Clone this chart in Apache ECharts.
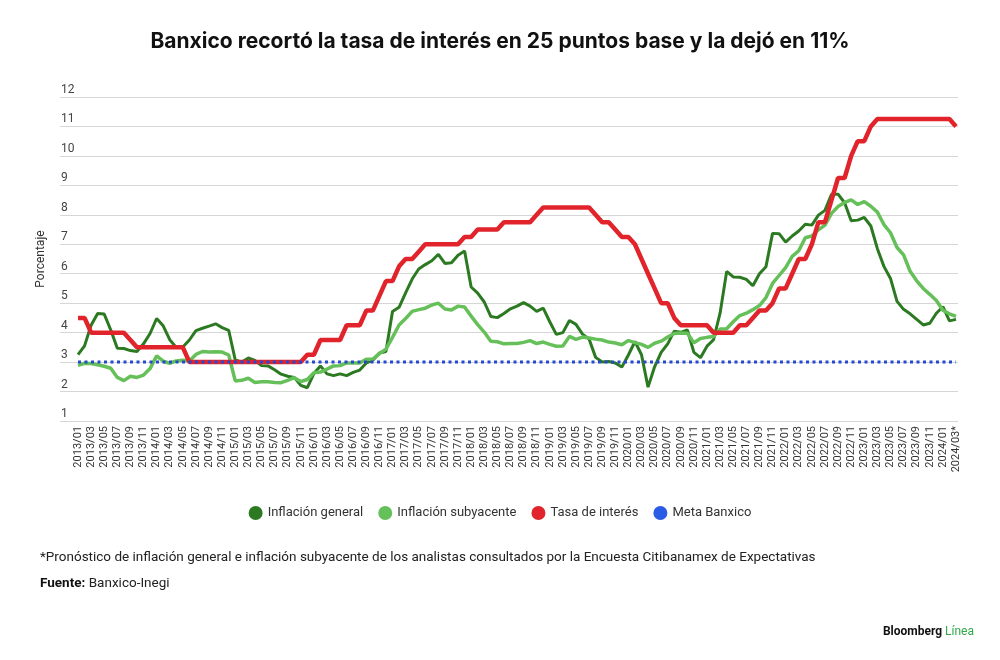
<!DOCTYPE html>
<html>
<head>
<meta charset="utf-8">
<script src="https://cdn.jsdelivr.net/npm/echarts@6/dist/echarts.min.js"></script>
<style>
  html, body { margin: 0; padding: 0; background: #fff; }
  #chart { width: 1000px; height: 660px; }
</style>
</head>
<body>
<div id="chart"></div>
<script>
// months 2013/01 .. 2024/03 (last one is a forecast)
let months = []
for (let y = 2013; y <= 2024; y++) {
    for (let m = 1; m <= 12; m++) {
        if (y === 2024 && m > 3) break
        months.push(y + '/' + (m < 10 ? '0' + m : m))
    }
}
months[months.length - 1] = '2024/03*'

// Inflación general, by year
let general2013 = [3.25, 3.55, 4.25, 4.65, 4.63, 4.09, 3.47, 3.46, 3.39, 3.36, 3.62, 3.97]
let general2014 = [4.48, 4.23, 3.76, 3.50, 3.51, 3.75, 4.07, 4.15, 4.22, 4.30, 4.17, 4.08]
let general2015 = [3.07, 3.00, 3.14, 3.06, 2.88, 2.87, 2.74, 2.59, 2.52, 2.48, 2.21, 2.13]
let general2016 = [2.61, 2.87, 2.60, 2.54, 2.60, 2.54, 2.65, 2.73, 2.97, 3.06, 3.31, 3.36]
let general2017 = [4.72, 4.86, 5.35, 5.82, 6.16, 6.31, 6.44, 6.66, 6.35, 6.37, 6.63, 6.77]
let general2018 = [5.55, 5.34, 5.04, 4.55, 4.51, 4.65, 4.81, 4.90, 5.02, 4.90, 4.72, 4.83]
let general2019 = [4.37, 3.94, 4.00, 4.41, 4.28, 3.95, 3.78, 3.16, 3.00, 3.02, 2.97, 2.83]
let general2020 = [3.24, 3.70, 3.25, 2.15, 2.84, 3.33, 3.62, 4.05, 4.01, 4.09, 3.33, 3.15]
let general2021 = [3.54, 3.76, 4.67, 6.08, 5.89, 5.88, 5.81, 5.59, 6.00, 6.24, 7.37, 7.36]
let general2022 = [7.07, 7.28, 7.45, 7.68, 7.65, 7.99, 8.15, 8.70, 8.70, 8.41, 7.80, 7.82]
let general2023 = [7.91, 7.62, 6.85, 6.25, 5.84, 5.06, 4.79, 4.64, 4.45, 4.26, 4.32, 4.66]
let general2024 = [4.88, 4.40, 4.45]

// Inflación subyacente, by year
let core2013 = [2.89, 2.96, 2.95, 2.91, 2.86, 2.79, 2.48, 2.37, 2.52, 2.48, 2.56, 2.78]
let core2014 = [3.21, 3.03, 2.96, 3.04, 3.06, 3.04, 3.26, 3.36, 3.34, 3.35, 3.34, 3.24]
let core2015 = [2.36, 2.38, 2.45, 2.31, 2.33, 2.33, 2.31, 2.30, 2.38, 2.47, 2.34, 2.41]
let core2016 = [2.64, 2.66, 2.76, 2.87, 2.88, 2.97, 2.97, 2.97, 3.10, 3.10, 3.29, 3.44]
let core2017 = [3.84, 4.26, 4.48, 4.72, 4.78, 4.83, 4.94, 5.00, 4.80, 4.77, 4.90, 4.87]
let core2018 = [4.56, 4.27, 4.02, 3.71, 3.69, 3.62, 3.63, 3.63, 3.67, 3.73, 3.63, 3.68]
let core2019 = [3.60, 3.54, 3.55, 3.87, 3.77, 3.85, 3.82, 3.78, 3.75, 3.68, 3.65, 3.59]
let core2020 = [3.73, 3.66, 3.60, 3.50, 3.64, 3.71, 3.85, 3.97, 3.99, 3.98, 3.66, 3.80]
let core2021 = [3.84, 3.87, 4.12, 4.13, 4.37, 4.58, 4.66, 4.78, 4.92, 5.19, 5.67, 5.94]
let core2022 = [6.21, 6.59, 6.78, 7.22, 7.28, 7.49, 7.65, 8.05, 8.28, 8.42, 8.51, 8.35]
let core2023 = [8.45, 8.29, 8.09, 7.67, 7.39, 6.89, 6.64, 6.08, 5.76, 5.50, 5.30, 5.09]
let core2024 = [4.76, 4.64, 4.55]

// Tasa de interés, by year
let rate2013 = [4.5, 4.5, 4.0, 4.0, 4.0, 4.0, 4.0, 4.0, 3.75, 3.5, 3.5, 3.5]
let rate2014 = [3.5, 3.5, 3.5, 3.5, 3.5, 3.0, 3.0, 3.0, 3.0, 3.0, 3.0, 3.0]
let rate2015 = [3.0, 3.0, 3.0, 3.0, 3.0, 3.0, 3.0, 3.0, 3.0, 3.0, 3.0, 3.25]
let rate2016 = [3.25, 3.75, 3.75, 3.75, 3.75, 4.25, 4.25, 4.25, 4.75, 4.75, 5.25, 5.75]
let rate2017 = [5.75, 6.25, 6.5, 6.5, 6.75, 7.0, 7.0, 7.0, 7.0, 7.0, 7.0, 7.25]
let rate2018 = [7.25, 7.5, 7.5, 7.5, 7.5, 7.75, 7.75, 7.75, 7.75, 7.75, 8.0, 8.25]
let rate2019 = [8.25, 8.25, 8.25, 8.25, 8.25, 8.25, 8.25, 8.0, 7.75, 7.75, 7.5, 7.25]
let rate2020 = [7.25, 7.0, 6.5, 6.0, 5.5, 5.0, 5.0, 4.5, 4.25, 4.25, 4.25, 4.25]
let rate2021 = [4.25, 4.0, 4.0, 4.0, 4.0, 4.25, 4.25, 4.5, 4.75, 4.75, 5.0, 5.5]
let rate2022 = [5.5, 6.0, 6.5, 6.5, 7.0, 7.75, 7.75, 8.5, 9.25, 9.25, 10.0, 10.5]
let rate2023 = [10.5, 11.0, 11.25, 11.25, 11.25, 11.25, 11.25, 11.25, 11.25, 11.25, 11.25, 11.25]
let rate2024 = [11.25, 11.25, 11.0]

let metaBanxico = 3

let inflacionGeneral = [].concat(general2013, general2014, general2015, general2016, general2017,
    general2018, general2019, general2020, general2021, general2022, general2023, general2024)
let inflacionSubyacente = [].concat(core2013, core2014, core2015, core2016, core2017,
    core2018, core2019, core2020, core2021, core2022, core2023, core2024)
let tasaInteres = [].concat(rate2013, rate2014, rate2015, rate2016, rate2017,
    rate2018, rate2019, rate2020, rate2021, rate2022, rate2023, rate2024)
let meta = months.map(() => metaBanxico)

let font = 'Roboto, "Liberation Sans", sans-serif'

let option = {
    backgroundColor: '#fff',
    animation: false,
    title: {
        text: 'Banxico recortó la tasa de interés en 25 puntos base y la dejó en 11%',
        left: 'center',
        top: 26,
        textStyle: { fontFamily: 'Inter, "Liberation Sans", sans-serif', fontWeight: 'bold', fontSize: 21, color: '#111' }
    },
    legend: {
        top: 501,
        left: 'center',
        icon: 'circle',
        itemWidth: 14,
        itemHeight: 14,
        itemGap: 15,
        textStyle: { fontFamily: font, fontSize: 13, color: '#333' },
        data: ['Inflación general', 'Inflación subyacente', 'Tasa de interés', 'Meta Banxico']
    },
    grid: [
        { left: 78, right: 44, top: 97, bottom: 239 },
        { left: 60, right: 42, top: 97, bottom: 239 }
    ],
    xAxis: [{
        type: 'category',
        gridIndex: 0,
        data: months,
        boundaryGap: false,
        axisLine: { show: false },
        axisTick: { show: false },
        axisLabel: {
            interval: 1,
            rotate: 90,
            margin: 5,
            fontFamily: font,
            fontSize: 11,
            color: '#333'
        }
    }, {
        type: 'value',
        gridIndex: 1,
        show: false
    }],
    yAxis: [{
        type: 'value',
        gridIndex: 0,
        min: 1,
        max: 12,
        show: false
    }, {
        type: 'value',
        gridIndex: 1,
        min: 1,
        max: 12,
        interval: 1,
        name: 'Porcentaje',
        nameLocation: 'middle',
        nameGap: 13,
        nameTextStyle: { fontFamily: font, fontSize: 12, color: '#333' },
        axisLine: { show: false },
        axisTick: { show: false },
        axisLabel: {
            inside: true,
            margin: 1,
            verticalAlign: 'bottom',
            padding: [0, 0, 1, 0],
            fontFamily: font,
            fontSize: 12,
            color: '#444'
        },
        splitLine: { lineStyle: { color: '#d6d6d6', width: 1 } }
    }],
    series: [{
        name: 'Inflación general',
        type: 'line',
        data: inflacionGeneral,
        showSymbol: false,
        color: '#2b7a22',
        lineStyle: { width: 3, color: '#2b7a22' }
    }, {
        name: 'Inflación subyacente',
        type: 'line',
        data: inflacionSubyacente,
        showSymbol: false,
        color: '#66c05a',
        lineStyle: { width: 3.5, color: '#66c05a' }
    }, {
        name: 'Tasa de interés',
        type: 'line',
        data: tasaInteres,
        showSymbol: false,
        color: '#e1242b',
        lineStyle: { width: 4.5, color: '#e1242b' }
    }, {
        name: 'Meta Banxico',
        type: 'line',
        data: meta,
        showSymbol: false,
        color: '#2b5ce6',
        lineStyle: { width: 3, color: '#2448cf', type: [3, 3.5] }
    }],
    graphic: [{
        type: 'text',
        left: 40,
        top: 551,
        style: {
            text: '*Pronóstico de inflación general e inflación subyacente de los analistas consultados por la Encuesta Citibanamex de Expectativas',
            font: '13.5px ' + font,
            fill: '#222'
        }
    }, {
        type: 'text',
        left: 40,
        top: 577,
        style: {
            text: '{b|Fuente:} Banxico-Inegi',
            font: '13.5px ' + font,
            fill: '#222',
            rich: {
                b: { fontWeight: 'bold', fontFamily: font, fontSize: 13.5, fill: '#111' }
            }
        }
    }, {
        type: 'text',
        right: 26,
        top: 626,
        style: {
            text: '{b|Bloomberg} {l|Línea}',
            font: '12px ' + font,
            rich: {
                b: { fontWeight: 'bold', fontFamily: font, fontSize: 12, fill: '#111' },
                l: { fontFamily: font, fontSize: 12, fill: '#2fa84a' }
            }
        }
    }]
}

let chart = echarts.init(document.getElementById('chart'))
chart.setOption(option)
</script>
</body>
</html>
